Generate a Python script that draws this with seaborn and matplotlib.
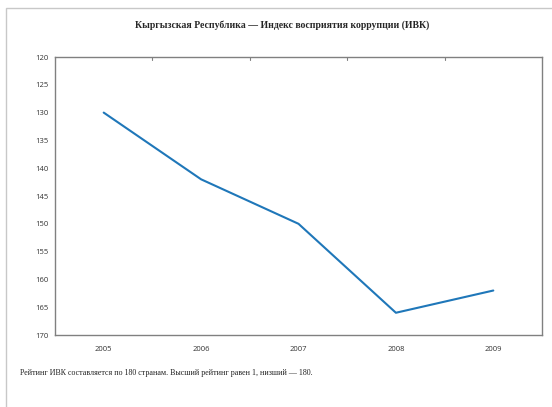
import matplotlib
matplotlib.use("Agg")
import matplotlib.pyplot as plt
import seaborn as sns
import pandas as pd
from matplotlib.patches import Rectangle

years = ["2005", "2006", "2007", "2008", "2009"]
ranks = [130, 142, 150, 166, 162]
y_ticks = [120, 125, 130, 135, 140, 145, 150, 155, 160, 165, 170]

title = "Кыргызская Республика — Индекс восприятия коррупции (ИВК)"
note = "Рейтинг ИВК составляется по 180 странам. Высший рейтинг равен 1, низший — 180."

df = pd.DataFrame({"year": years, "rank": ranks})
df["pos"] = range(len(years))

sns.set_style("white")
plt.rcParams["font.family"] = ["Open Sans", "DejaVu Sans"]

W, H = 552, 407
fig = plt.figure(figsize=(W / 100, H / 100), dpi=100)
ax = fig.add_axes([55 / W, 1 - 335 / H, (542 - 55) / W, (335 - 57) / H])

sns.lineplot(data=df, x="pos", y="rank", ax=ax, color="#1f77b9", linewidth=1.5)

ax.set_xlim(-0.5, len(years) - 0.5)
ax.set_ylim(y_ticks[-1], y_ticks[0])
ax.set_yticks(y_ticks)
ax.set_yticklabels([str(v) for v in y_ticks], fontsize=5.5, color="#333333")
ax.set_xticks(df["pos"])
ax.set_xticklabels(years, fontsize=5.5, color="#333333")
ax.set_xlabel("")
ax.set_ylabel("")

for s in ax.spines.values():
    s.set_color("#808080")
    s.set_linewidth(1.0)

ax.tick_params(axis="y", length=3, width=0.8, color="#808080", pad=2, direction="out")
ax.tick_params(axis="x", length=0, pad=8)

# category boundary marks hanging from the top edge
for b in range(1, len(years)):
    ax.plot([b - 0.5, b - 0.5], [y_ticks[0], y_ticks[0] + 0.6],
            color="#808080", linewidth=0.8, clip_on=False)

fig.text(282 / W, 1 - 25 / H, title, ha="center", va="center",
         fontsize=7, fontweight="bold", family=["Liberation Serif", "DejaVu Serif"])
fig.text(20 / W, 1 - 373 / H, note, ha="left", va="center",
         fontsize=5.8, family=["Liberation Serif", "DejaVu Serif"], color="#222222")

# outer frame
fig.patches.append(Rectangle((6 / W, -0.1), 1.2, 1 - 8 / H + 0.1,
                             transform=fig.transFigure, fill=False,
                             edgecolor="#c8c8c8", linewidth=1.0))

fig.savefig("out.png", dpi=100)
